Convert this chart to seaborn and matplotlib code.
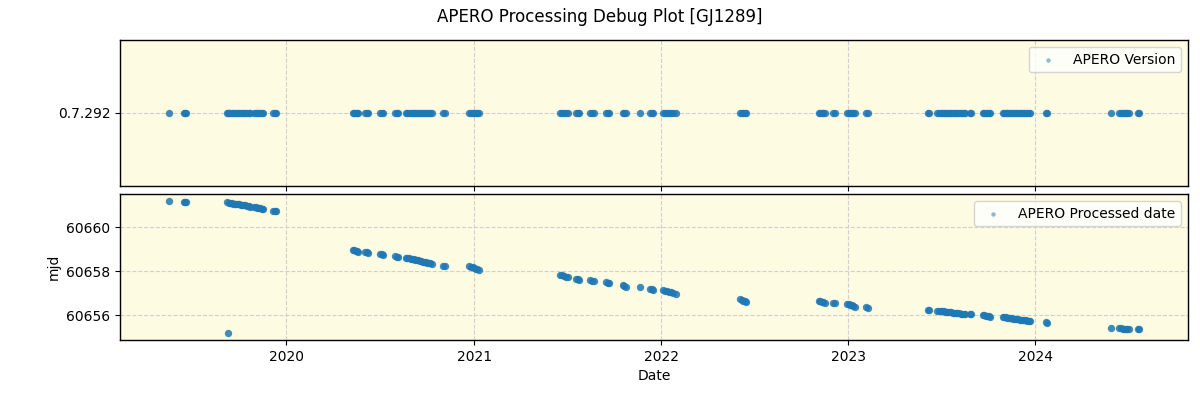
import pandas as pd
import matplotlib
matplotlib.use("Agg")
import matplotlib.pyplot as plt
import matplotlib.dates as mdates
import seaborn as sns

# observation dates (shared by both panels)
obs_dates = [
    "2019-05-16", "2019-06-15", "2019-06-17", "2019-06-19", "2019-09-09",
    "2019-09-07", "2019-09-10", "2019-09-13", "2019-09-16", "2019-09-19",
    "2019-09-22", "2019-09-25", "2019-09-28", "2019-10-01", "2019-10-04",
    "2019-10-07", "2019-10-10", "2019-10-13", "2019-10-16", "2019-10-19",
    "2019-10-22", "2019-10-30", "2019-11-02", "2019-11-05", "2019-11-08",
    "2019-11-11", "2019-11-14", "2019-11-17", "2019-12-06", "2019-12-09",
    "2019-12-12",
    "2020-05-09", "2020-05-12", "2020-05-15", "2020-05-18", "2020-05-20",
    "2020-06-03", "2020-06-06", "2020-06-09", "2020-07-02", "2020-07-05",
    "2020-07-08", "2020-07-31", "2020-08-03", "2020-08-06", "2020-08-21",
    "2020-08-24", "2020-08-27", "2020-08-30", "2020-09-02", "2020-09-05",
    "2020-09-08", "2020-09-11", "2020-09-14", "2020-09-17", "2020-09-20",
    "2020-09-23", "2020-09-26", "2020-09-29", "2020-10-02", "2020-10-05",
    "2020-10-08", "2020-10-11", "2020-11-02", "2020-11-05", "2020-12-23",
    "2020-12-26", "2020-12-29", "2021-01-01", "2021-01-04", "2021-01-07",
    "2021-01-10",
    "2021-06-17", "2021-06-21", "2021-06-25", "2021-06-29", "2021-07-03",
    "2021-07-19", "2021-07-22", "2021-07-25", "2021-08-16", "2021-08-19",
    "2021-08-22", "2021-09-16", "2021-09-19", "2021-09-22", "2021-10-18",
    "2021-10-21", "2021-10-24", "2021-11-21", "2021-12-11", "2021-12-14",
    "2021-12-17", "2022-01-05", "2022-01-09", "2022-01-13", "2022-01-17",
    "2022-01-21", "2022-01-25", "2022-01-29",
    "2022-06-04", "2022-06-07", "2022-06-10", "2022-06-13", "2022-06-16",
    "2022-11-04", "2022-11-07", "2022-11-10", "2022-11-13", "2022-11-16",
    "2022-12-03", "2022-12-07", "2022-12-30", "2023-01-02", "2023-01-05",
    "2023-01-08", "2023-01-11", "2023-01-14", "2023-02-04", "2023-02-08",
    "2023-06-06", "2023-06-08", "2023-06-24", "2023-06-27", "2023-06-30",
    "2023-07-03", "2023-07-06", "2023-07-09", "2023-07-12", "2023-07-15",
    "2023-07-18", "2023-07-21", "2023-07-24", "2023-07-27", "2023-07-30",
    "2023-08-02", "2023-08-05", "2023-08-08", "2023-08-11", "2023-08-14",
    "2023-08-17", "2023-08-27", "2023-08-29", "2023-09-20", "2023-09-23",
    "2023-09-26", "2023-09-29", "2023-10-02", "2023-10-05", "2023-10-29",
    "2023-11-01", "2023-11-04", "2023-11-07", "2023-11-10", "2023-11-13",
    "2023-11-16", "2023-11-19", "2023-11-22", "2023-11-25", "2023-11-28",
    "2023-12-01", "2023-12-04", "2023-12-07", "2023-12-10", "2023-12-13",
    "2023-12-16", "2023-12-19", "2023-12-22", "2024-01-22", "2024-01-24",
    "2024-05-27", "2024-06-13", "2024-06-16", "2024-06-19", "2024-06-22",
    "2024-06-25", "2024-06-28", "2024-07-01", "2024-07-20", "2024-07-22",
]

# processed date (mjd) for each observation
processed_mjd = [
    60661.21, 60661.16, 60661.15, 60661.14, 60655.17,
    60661.13, 60661.11, 60661.10, 60661.09, 60661.08,
    60661.07, 60661.06, 60661.05, 60661.04, 60661.02,
    60661.01, 60661.00, 60660.99, 60660.97, 60660.96,
    60660.94, 60660.92, 60660.91, 60660.89, 60660.87,
    60660.86, 60660.84, 60660.82, 60660.76, 60660.74,
    60660.72,
    60658.96, 60658.95, 60658.93, 60658.91, 60658.89,
    60658.88, 60658.86, 60658.84, 60658.79, 60658.77,
    60658.75, 60658.68, 60658.66, 60658.64, 60658.61,
    60658.60, 60658.59, 60658.57, 60658.55, 60658.54,
    60658.52, 60658.51, 60658.49, 60658.47, 60658.46,
    60658.44, 60658.42, 60658.41, 60658.39, 60658.37,
    60658.35, 60658.33, 60658.25, 60658.22, 60658.23,
    60658.20, 60658.17, 60658.14, 60658.11, 60658.08,
    60658.05,
    60657.83, 60657.81, 60657.78, 60657.75, 60657.72,
    60657.66, 60657.64, 60657.62, 60657.59, 60657.56,
    60657.54, 60657.50, 60657.47, 60657.45, 60657.37,
    60657.33, 60657.30, 60657.26, 60657.19, 60657.17,
    60657.15, 60657.14, 60657.11, 60657.09, 60657.07,
    60657.04, 60657.01, 60656.98,
    60656.72, 60656.69, 60656.66, 60656.63, 60656.60,
    60656.65, 60656.63, 60656.61, 60656.59, 60656.57,
    60656.54, 60656.53, 60656.51, 60656.49, 60656.46,
    60656.44, 60656.41, 60656.39, 60656.36, 60656.34,
    60656.24, 60656.22, 60656.21, 60656.20, 60656.19,
    60656.18, 60656.17, 60656.16, 60656.15, 60656.14,
    60656.13, 60656.12, 60656.11, 60656.10, 60656.10,
    60656.09, 60656.08, 60656.07, 60656.06, 60656.05,
    60656.04, 60656.05, 60656.03, 60656.01, 60656.00,
    60655.98, 60655.96, 60655.95, 60655.93, 60655.92,
    60655.91, 60655.90, 60655.88, 60655.87, 60655.86,
    60655.85, 60655.84, 60655.83, 60655.82, 60655.81,
    60655.80, 60655.79, 60655.78, 60655.77, 60655.76,
    60655.75, 60655.74, 60655.72, 60655.68, 60655.66,
    60655.41, 60655.41, 60655.40, 60655.38, 60655.37,
    60655.36, 60655.35, 60655.35, 60655.36, 60655.35,
]

apero_version = "0.7.292"

df = pd.DataFrame({
    "date": pd.to_datetime(obs_dates),
    "mjd": processed_mjd,
    "version": [apero_version] * len(obs_dates),
})

sns.set_style("ticks")
plt.rcParams["font.family"] = ["DejaVu Sans"]
plt.rcParams["text.color"] = "black"
plt.rcParams["axes.labelcolor"] = "black"
plt.rcParams["xtick.color"] = "black"
plt.rcParams["ytick.color"] = "black"

fig, (ax1, ax2) = plt.subplots(2, 1, figsize=(12, 4), dpi=100, sharex=True)
fig.subplots_adjust(left=0.1, right=0.99, top=0.9, bottom=0.15, hspace=0.055)
fig.suptitle("APERO Processing Debug Plot [GJ1289]", fontsize=12)

bg = "#fdfbe2"
point_kw = dict(color="#1f77b4", marker="o", s=28, alpha=0.85, linewidth=0)

# top: version
sns.scatterplot(data=df, x="date", y="version", ax=ax1, label="APERO Version", **point_kw)
ax1.set_ylim(-1, 1)
ax1.set_ylabel("")
ax1.set_xlabel("")

# bottom: processed mjd
sns.scatterplot(data=df, x="date", y="mjd", ax=ax2, label="APERO Processed date", **point_kw)
ax2.set_ylabel("mjd")
ax2.set_xlabel("Date")
ax2.set_yticks([60656, 60658, 60660])
ax2.ticklabel_format(axis="y", useOffset=False, style="plain")

ax2.xaxis.set_major_locator(mdates.YearLocator())
ax2.xaxis.set_major_formatter(mdates.DateFormatter("%Y"))

for ax in (ax1, ax2):
    ax.set_facecolor(bg)
    ax.grid(True, linestyle="--", color="#d0d0d0", linewidth=0.8)
    leg = ax.legend(loc="upper right", fontsize=10, framealpha=0.8, markerscale=0.6)
    for h in leg.legend_handles:
        h.set_alpha(0.5)
    for sp in ax.spines.values():
        sp.set_color("black")
        sp.set_linewidth(1.0)
    ax.tick_params(direction="out", length=3.5, labelsize=10)

fig.savefig("out.png", dpi=100)
